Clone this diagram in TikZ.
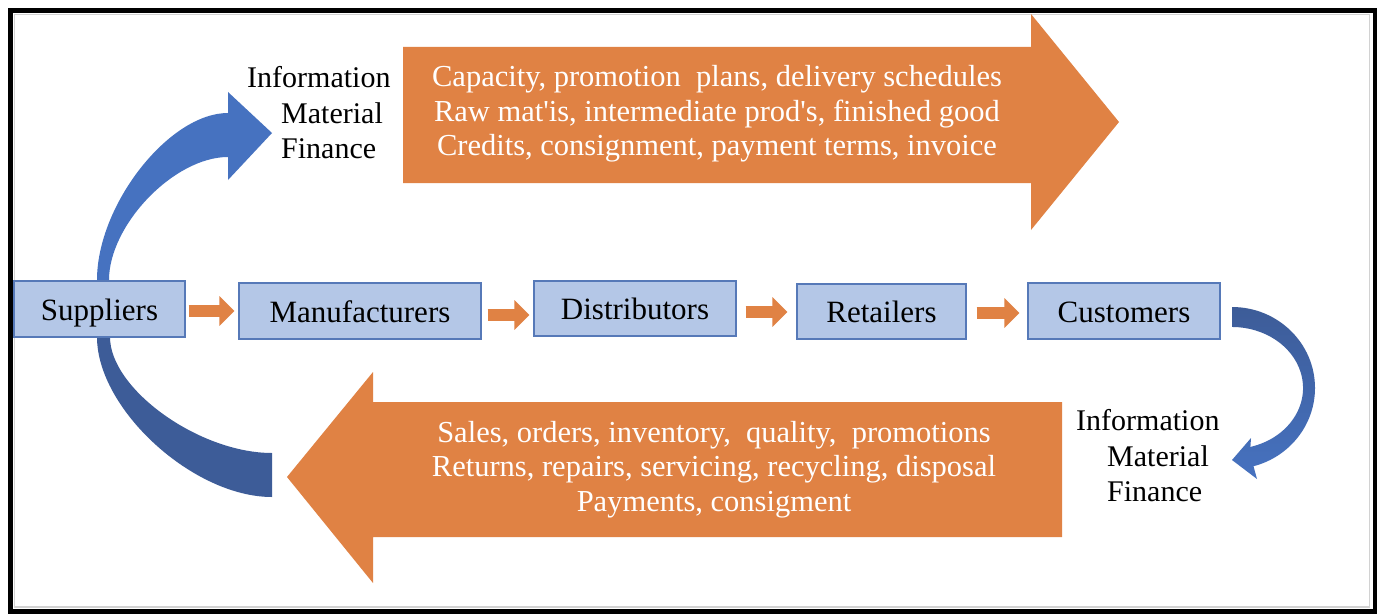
\documentclass[tikz,border=0pt]{standalone}
\usepackage{fontspec}
\setmainfont{Liberation Serif}
\usetikzlibrary{arrows.meta}
\definecolor{orangeA}{HTML}{E08244}
\definecolor{boxfill}{HTML}{B4C7E7}
\definecolor{boxline}{HTML}{5679B8}
\definecolor{blueA}{HTML}{4672C0}
\definecolor{blueB}{HTML}{3D5C98}
\tikzset{
  stagebox/.style={draw=boxline, fill=boxfill, line width=1.2pt, inner sep=0pt,
    text height=26pt, text depth=4pt, font=\fontsize{31}{36}\selectfont},
  smallflow/.style={draw=orangeA, line width=12.5pt, -{Triangle[length=15pt,width=29pt]}},
  bigtext/.style={text=white, align=center, inner sep=0pt, font=\fontsize{30.5}{34.5}\selectfont},
  flowlabel/.style={align=left, inner sep=0pt, font=\fontsize{30}{35.5}\selectfont},
  bigarrow/.style={fill=orangeA}
}
\begin{document}
\begin{tikzpicture}[x=1pt,y=-1pt]
\useasboundingbox (0,0) rectangle (1383,615);
\fill[white] (0,0) rectangle (1383,615);
% frame
\draw[gray!35, line width=1.5pt] (14.5,14.5) rectangle (1369.5,607);
\draw[black, line width=4.5pt] (10.5,10.5) rectangle (1375,611.5);

% big orange arrows
\fill[bigarrow] (403,47) -- (1031,47) -- (1031,14) -- (1119,122) -- (1031,230) -- (1031,183) -- (403,183) -- cycle;
\node[bigtext] (toptext) at (717,114) {Capacity, promotion\ \ plans, delivery schedules\\Raw mat\textquotesingle is, intermediate prod\textquotesingle s, finished good\\Credits, consignment, payment terms, invoice};
\fill[bigarrow] (1062,402) -- (373,402) -- (373,372) -- (287,477) -- (373,583) -- (373,537) -- (1062,537) -- cycle;
\node[bigtext] (bottext) at (714,469.5) {Sales, orders, inventory,\ \ quality,\ \ promotions\\Returns, repairs, servicing, recycling, disposal\\Payments, consigment};

% blue curved arrows
\fill[blueA] (97,300) -- (97,280) .. controls (97,205) and (169,113) .. (228,113) -- (228,92) -- (272,133) -- (228,180) -- (228,157) .. controls (174,157) and (109,225) .. (109,280) -- (109,300) -- cycle;
\fill[blueB] (97,310) -- (97,337) .. controls (97,409) and (193,497) .. (272,497) -- (272,453) .. controls (199,453) and (110,389) .. (110,337) -- (110,310) -- cycle;
\shade[top color=blueB, bottom color=blueA] (1232,307) arc[start angle=-90, end angle=75, x radius=83, y radius=81] -- (1257,479) -- (1232,460) -- (1251,438) -- (1250.4,446.9) arc[start angle=75, end angle=-90, x radius=71, y radius=61] -- cycle;

% labels
\node[flowlabel, anchor=west] (lab1) at (247,113) {Information\\\hspace*{34pt}Material\\\hspace*{34pt}Finance};
\node[flowlabel, anchor=west] (lab2) at (1076,456) {Information\\\hspace*{31pt}Material\\\hspace*{31pt}Finance};

% stage boxes
\node[stagebox, minimum width=171pt, minimum height=56pt] (sup) at (99.5,309) {Suppliers};
\node[stagebox, minimum width=242pt, minimum height=56pt] (man) at (360,311) {Manufacturers};
\node[stagebox, minimum width=202pt, minimum height=55pt] (dis) at (635,308.5) {Distributors};
\node[stagebox, minimum width=169pt, minimum height=55pt] (ret) at (881.5,311.5) {Retailers};
\node[stagebox, minimum width=192pt, minimum height=56pt] (cus) at (1124,311) {Customers};

% small flow arrows
\draw[smallflow] ([xshift=3pt]sup.east |- 0,311) -- ([xshift=-4pt]man.west |- 0,311);
\draw[smallflow] ([xshift=6pt]man.east |- 0,315) -- ([xshift=-4pt]dis.west |- 0,315);
\draw[smallflow] ([xshift=9pt]dis.east |- 0,312) -- ([xshift=-9pt]ret.west |- 0,312);
\draw[smallflow] ([xshift=10pt]ret.east |- 0,313) -- ([xshift=-8pt]cus.west |- 0,313);
\end{tikzpicture}
\end{document}
